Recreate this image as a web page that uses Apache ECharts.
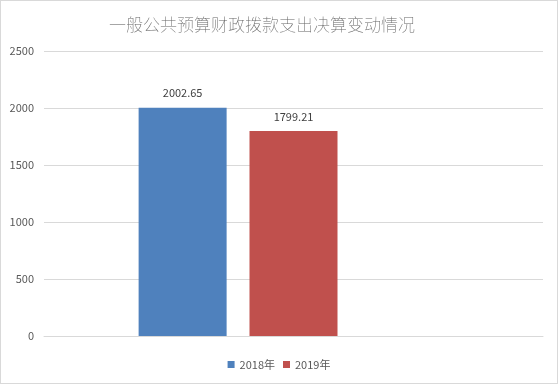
<!DOCTYPE html>
<html><head><meta charset="utf-8">
<script src="https://cdn.jsdelivr.net/npm/echarts@6/dist/echarts.min.js"></script>
<style>
html,body{margin:0;padding:0;background:#fff;}
#c{width:558px;height:384px;box-sizing:border-box;border:1px solid #d9d9d9;}
</style></head>
<body><div id="c"></div>
<script>
const categories = [''];
const seriesNames = ['2018年', '2019年'];
const values2018 = [2002.65];
const values2019 = [1799.21];
const placeholder = [null];
const yTicks = [0, 500, 1000, 1500, 2000, 2500];

const chart = echarts.init(document.getElementById('c'), null, {renderer: 'canvas'});
const font = '"Microsoft YaHei","Noto Sans CJK SC","DejaVu Sans",sans-serif';
const lbl = {show: true, position: 'top', color: '#404040', fontSize: 11, fontFamily: font, distance: 9,
  formatter: p => String(p.value)};
chart.setOption({
  animation: false,
  textStyle: {fontFamily: font},
  title: {text: '一般公共预算财政拨款支出决算变动情况', left: 103, top: 10,
    textStyle: {fontSize: 17, fontWeight: 'lighter', color: '#666666', fontFamily: font}},
  legend: {data: seriesNames, bottom: 8, left: 'center', itemWidth: 7, itemHeight: 7, itemGap: 8,
    icon: 'rect', textStyle: {color: '#595959', fontSize: 11, fontFamily: font}},
  grid: {left: 43, right: 14, top: 50, bottom: 47, containLabel: false},
  xAxis: {type: 'category', data: categories, axisLine: {show: true, lineStyle: {color: '#d9d9d9'}},
    axisTick: {show: false}, axisLabel: {show: false}},
  yAxis: {type: 'value', min: yTicks[0], max: yTicks[yTicks.length-1], interval: 500,
    axisLine: {show: false}, axisTick: {show: false},
    axisLabel: {color: '#595959', fontSize: 11, margin: 10, fontFamily: font, formatter: v => String(v)},
    splitLine: {lineStyle: {color: '#d9d9d9'}}},
  series: [
    {name: seriesNames[0], type: 'bar', data: values2018, barWidth: 88, barGap: '26%',
      itemStyle: {color: '#4f81bd'}, label: lbl},
    {name: seriesNames[1], type: 'bar', data: values2019, barWidth: 88, barGap: '26%',
      itemStyle: {color: '#c0504d'}, label: lbl},
    {name: '', type: 'bar', data: placeholder, barWidth: 88, barGap: '26%', itemStyle: {color: '#9bbb59'}}
  ]
});
</script></body></html>
